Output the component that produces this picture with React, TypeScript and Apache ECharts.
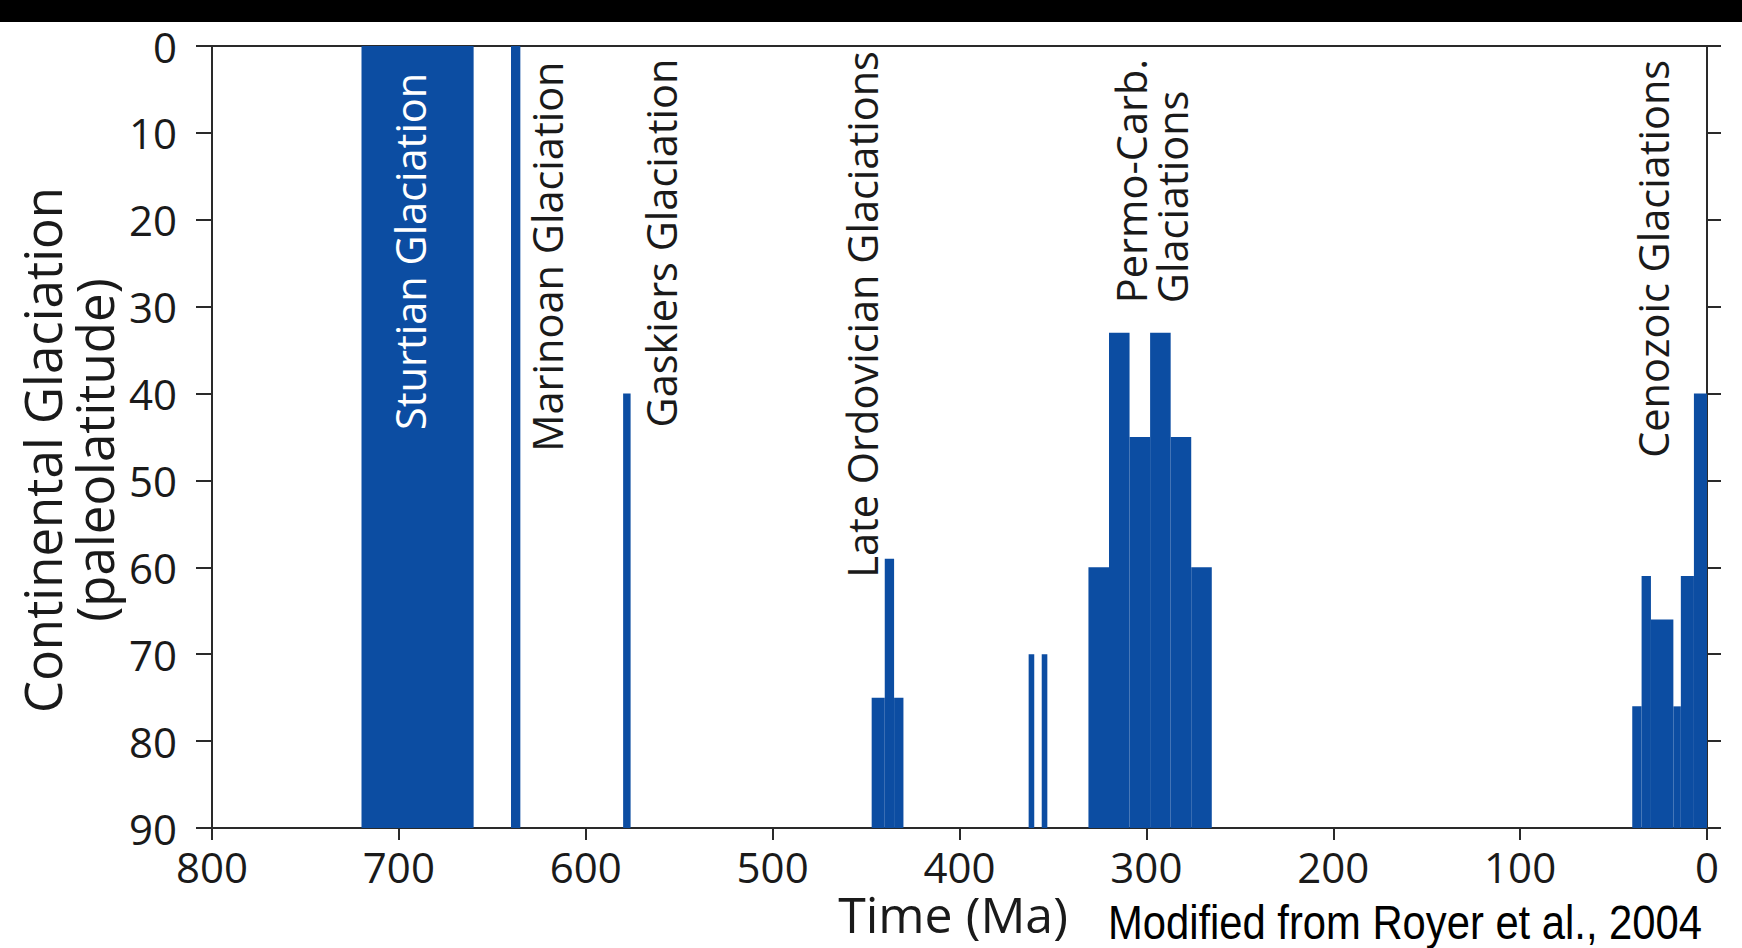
import React, { useEffect, useRef } from "react";
import * as echarts from "echarts";

// Each glaciation interval: [older edge (Ma), younger edge (Ma), lowest paleolatitude reached by ice (°)]
const sturtian = [[720, 660, 0]];
const marinoan = [[640, 635, 0]];
const gaskiers = [[580, 576, 40]];
const lateOrdovician = [[447, 440, 75], [440, 435, 59], [435, 430, 75]];
const lateDevonian = [[363, 360, 70], [356, 353, 70]];
const permoCarboniferous = [
  [331, 320, 60], [320, 309, 33], [309, 298, 45],
  [298, 287, 33], [287, 276, 45], [276, 265, 60],
];
const cenozoic = [
  [40, 35, 76], [35, 30, 61], [30, 18, 66],
  [18, 14, 76], [14, 7, 61], [7, 0, 40],
];

// Rotated event names, anchored at (age Ma, paleolatitude) where the text begins
const eventNames = [
  "Sturtian Glaciation",
  "Marinoan Glaciation",
  "Gaskiers Glaciation",
  "Late Ordovician Glaciations",
  "Permo-Carb.\nGlaciations",
  "Cenozoic Glaciations",
];
const eventNameAges = [694, 621, 560, 452, 297, 29];
const eventNameLatitudes = [44.2, 46.7, 43.9, 61.2, 29.6, 47.4];
const eventNameColors = ["#ffffff", "#1a1a1a", "#1a1a1a", "#1a1a1a", "#1a1a1a", "#1a1a1a"];

// Axis ranges
const timeMax = 800;
const timeStep = 100;
const latitudeMax = 90;
const latitudeStep = 10;

const BAR_COLOR = "#0c4da2";
const INK = "#1a1a1a";
const FONT = "'Open Sans', 'Noto Sans', sans-serif";

const intervals = [
  ...sturtian,
  ...marinoan,
  ...gaskiers,
  ...lateOrdovician,
  ...lateDevonian,
  ...permoCarboniferous,
  ...cenozoic,
];

const nameData = eventNames.map((_, i) => [eventNameAges[i], eventNameLatitudes[i], i]);

const axisLineStyle = { color: "#2a2a2a", width: 2 };

const option: any = {
  animation: false,
  backgroundColor: "#ffffff",
  grid: { left: 212, top: 46, width: 1495, height: 782, containLabel: false },
  xAxis: [
    {
      type: "value",
      min: 0,
      max: timeMax,
      interval: timeStep,
      inverse: true,
      position: "bottom",
      axisLine: { show: true, onZero: false, lineStyle: axisLineStyle },
      axisTick: { show: true, inside: false, length: 12, lineStyle: axisLineStyle },
      axisLabel: { fontSize: 42, fontFamily: FONT, color: INK, margin: 20, lineHeight: 36 },
      splitLine: { show: false },
    },
    {
      type: "value",
      min: 0,
      max: timeMax,
      inverse: true,
      position: "top",
      axisLine: { show: true, onZero: false, lineStyle: axisLineStyle },
      axisTick: { show: false },
      axisLabel: { show: false },
      splitLine: { show: false },
    },
  ],
  yAxis: [
    {
      type: "value",
      min: 0,
      max: latitudeMax,
      interval: latitudeStep,
      inverse: true,
      position: "left",
      axisLine: { show: true, onZero: false, lineStyle: axisLineStyle },
      axisTick: { show: true, inside: false, length: 16, lineStyle: axisLineStyle },
      axisLabel: { fontSize: 42, fontFamily: FONT, color: INK, margin: 35 },
      splitLine: { show: false },
    },
    {
      type: "value",
      min: 0,
      max: latitudeMax,
      interval: latitudeStep,
      inverse: true,
      position: "right",
      axisLine: { show: true, onZero: false, lineStyle: axisLineStyle },
      axisTick: { show: true, inside: false, length: 14, lineStyle: axisLineStyle },
      axisLabel: { show: false },
      splitLine: { show: false },
    },
  ],
  series: [
    {
      type: "custom",
      name: "glaciations",
      xAxisIndex: 0,
      yAxisIndex: 0,
      data: intervals,
      encode: { x: [0, 1], y: 2 },
      renderItem: (_params: any, api: any) => {
        const a = api.coord([api.value(0), api.value(2)]);
        const b = api.coord([api.value(1), latitudeMax]);
        return {
          type: "rect",
          shape: {
            x: Math.min(a[0], b[0]),
            y: Math.min(a[1], b[1]),
            width: Math.abs(b[0] - a[0]),
            height: Math.abs(b[1] - a[1]),
          },
          style: { fill: BAR_COLOR },
        };
      },
      z: 2,
    },
    {
      type: "custom",
      name: "event names",
      xAxisIndex: 0,
      yAxisIndex: 0,
      data: nameData,
      encode: { x: 0, y: 1 },
      clip: false,
      renderItem: (params: any, api: any) => {
        const p = api.coord([api.value(0), api.value(1)]);
        const i = params.dataIndex;
        return {
          type: "text",
          x: p[0],
          y: p[1],
          rotation: Math.PI / 2,
          style: {
            text: eventNames[i],
            fill: eventNameColors[i],
            fontSize: 41.5,
            fontFamily: FONT,
            lineHeight: 41,
            align: "left",
            verticalAlign: "middle",
          },
        };
      },
      z: 5,
    },
  ],
  graphic: [
    {
      type: "rect",
      left: 0,
      top: 0,
      shape: { width: 1742, height: 22 },
      style: { fill: "#000000" },
    },
    {
      type: "text",
      x: 68,
      y: 450,
      rotation: Math.PI / 2,
      style: {
        text: "Continental Glaciation\n(paleolatitude)",
        fontSize: 51,
        lineHeight: 52,
        fontFamily: FONT,
        fill: INK,
        align: "center",
        verticalAlign: "middle",
      },
    },
    {
      type: "text",
      x: 953,
      y: 914,
      style: {
        text: "Time (Ma)",
        fontSize: 50,
        lineHeight: 38,
        fontFamily: FONT,
        fill: INK,
        align: "center",
        verticalAlign: "middle",
      },
    },
    {
      // condensed credit line
      type: "text",
      x: 1108,
      y: 922,
      scaleX: 0.87,
      style: {
        text: "Modified from Royer et al., 2004",
        fontSize: 48,
        lineHeight: 40,
        fontFamily: "'Liberation Sans', Arial, sans-serif",
        fill: "#000000",
        align: "left",
        verticalAlign: "middle",
      },
    },
  ],
};

export default function App() {
  const ref = useRef<HTMLDivElement>(null);
  useEffect(() => {
    const chart = echarts.init(ref.current!, null, { renderer: "svg" });
    chart.setOption(option);
    return () => chart.dispose();
  }, []);
  return (
    <div
      ref={ref}
      style={{ position: "fixed", left: 0, top: 0, width: 1742, height: 948, background: "#ffffff" }}
    />
  );
}
